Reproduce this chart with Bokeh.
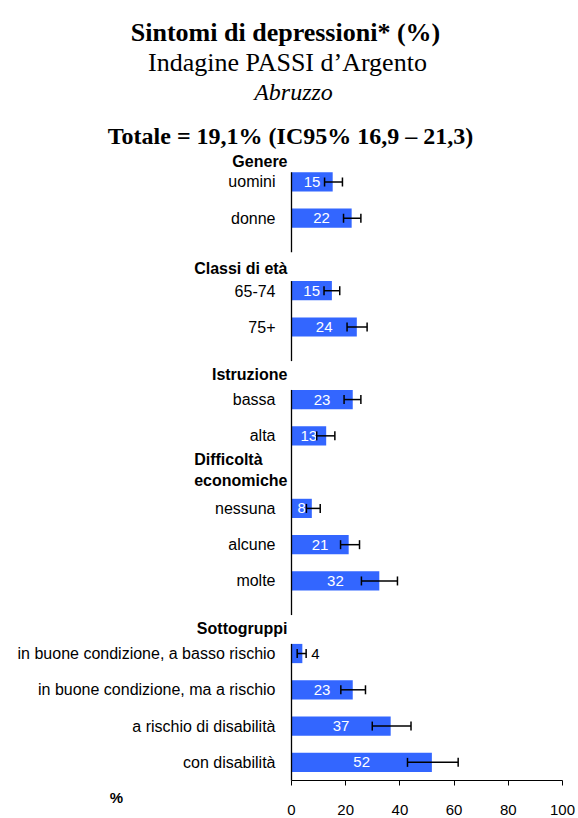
from bokeh.plotting import figure
from bokeh.models import (ColumnDataSource, LabelSet, Label, Whisker, TeeHead,
                          FixedTicker, Range1d)
from bokeh.embed import file_html
from bokeh.resources import INLINE
from bokeh.core.properties import value

# ---------------- data ----------------
title_text = "Sintomi di depressioni* (%)"
subtitle_text = "Indagine PASSI d\u2019Argento"
region_text = "Abruzzo"
total_text = "Totale = 19,1% (IC95% 16,9 \u2013 21,3)"
axis_unit = "%"

groups = ["Genere", "Classi di et\u00e0", "Istruzione", "Difficolt\u00e0\neconomiche", "Sottogruppi"]
categories = ["uomini", "donne", "65-74", "75+", "bassa", "alta",
              "nessuna", "alcune", "molte",
              "in buone condizione, a basso rischio",
              "in buone condizione, ma a rischio",
              "a rischio di disabilit\u00e0", "con disabilit\u00e0"]
category_group = [0, 0, 1, 1, 2, 2, 3, 3, 3, 4, 4, 4, 4]
values = [15.2, 22.2, 14.9, 24.1, 22.6, 12.8, 7.5, 21.1, 32.4, 4.0, 22.6, 36.6, 51.8]
ci_low = [12.2, 19.2, 12.0, 20.5, 19.4, 9.3, 5.5, 18.1, 25.8, 2.1, 18.2, 29.8, 42.8]
ci_high = [18.8, 25.6, 17.8, 27.9, 25.6, 16.0, 10.6, 25.1, 39.1, 5.4, 27.3, 44.1, 61.5]
value_labels = ["15", "22", "15", "24", "23", "13", "8", "21", "32", "4", "23", "37", "52"]
x_ticks = [0, 20, 40, 60, 80, 100]

# ---------------- layout / style ----------------
W, H = 578, 818
X0_PX, X100_PX = 291, 562          # pixel position of 0 and 100 on the value axis
AXIS_PX = 780                      # pixel row of the value axis
ROW_H = 36.28                      # pixel height of one row
BAR_H = 0.53
BLUE = "#3366FF"
SANS = "Liberation Sans"
SERIF = "Liberation Serif"
HEADER_DY = [16, 14, 11, -2, 11]   # header text shift below row centre (px)
GAP_HEADERS = [True, True, True, False, True]  # headers that interrupt the axis line

# build rows (header row followed by its categories)
row_names, row_is_header, row_ref = [], [], []
for g, gname in enumerate(groups):
    row_names.append(gname); row_is_header.append(True); row_ref.append(g)
    for i, cg in enumerate(category_group):
        if cg == g:
            row_names.append(categories[i]); row_is_header.append(False); row_ref.append(i)
n_rows = len(row_names)
row_y = [n_rows - 1 - k for k in range(n_rows)]
Y_AXIS = -0.5
YS = Y_AXIS - (H - AXIS_PX) / ROW_H
YE = Y_AXIS + AXIS_PX / ROW_H
PX_PER_UNIT = (X100_PX - X0_PX) / 100.0
XS = -X0_PX / PX_PER_UNIT
XE = (W - X0_PX) / PX_PER_UNIT


def px_x(img_x):
    return (img_x - X0_PX) / PX_PER_UNIT


def px_y(img_y):
    return Y_AXIS + (AXIS_PX - img_y) / ROW_H


cat_y = [None] * len(categories)
head_y = [None] * len(groups)
for k in range(n_rows):
    if row_is_header[k]:
        head_y[row_ref[k]] = row_y[k]
    else:
        cat_y[row_ref[k]] = row_y[k]

src = ColumnDataSource(dict(y=cat_y, v=values, lo=ci_low, hi=ci_high, name=categories))

p = figure(width=W, height=H, output_backend="svg", toolbar_location=None,
           x_range=Range1d(XS, XE), y_range=Range1d(YS, YE),
           min_border_left=0, min_border_right=0,
           min_border_top=0, min_border_bottom=0)
p.outline_line_color = None
p.xgrid.visible = False
p.ygrid.visible = False
p.yaxis.visible = False

p.hbar(y="y", left=0, right="v", height=BAR_H, source=src, fill_color=BLUE, line_color=None)

# vertical axis line, interrupted under some group headers
seg_y0, seg_y1 = [], []
top = head_y[0] + 0.5
for g in range(len(groups)):
    if not GAP_HEADERS[g]:
        continue
    if g > 0:
        seg_y0.append(head_y[g] + 0.06); seg_y1.append(top)
    top = head_y[g] - 1 + BAR_H / 2
seg_y0.append(Y_AXIS); seg_y1.append(top)
p.segment(x0=[0] * len(seg_y0), x1=[0] * len(seg_y0), y0=seg_y0, y1=seg_y1,
          line_color="black", line_width=1.3)

# value labels
inside = [i for i, v in enumerate(values) if v >= 5]
outside = [i for i, v in enumerate(values) if v < 5]
src_in = ColumnDataSource(dict(x=[values[i] / 2 for i in inside], y=[cat_y[i] for i in inside],
                               t=[value_labels[i] for i in inside]))
src_out = ColumnDataSource(dict(x=[ci_high[i] for i in outside], y=[cat_y[i] for i in outside],
                                t=[value_labels[i] for i in outside]))
p.text(x="x", y="y", text="t", source=src_in, text_color="white", text_align="center",
       text_baseline="middle", text_font=value(SANS), text_font_size="15px")
p.text(x="x", y="y", text="t", source=src_out, text_color="black", text_align="left",
       text_baseline="middle", text_font=value(SANS), text_font_size="15px", x_offset=5)

# error bars
head_kw = dict(size=9, line_color="black", line_width=1.5)
p.add_layout(Whisker(source=src, base="y", lower="lo", upper="hi", dimension="width",
                     line_color="black", line_width=1.5, level="annotation",
                     lower_head=TeeHead(**head_kw), upper_head=TeeHead(**head_kw)))

# category labels
p.add_layout(LabelSet(x=0, y="y", text="name", source=src, x_offset=-16,
                      text_align="right", text_baseline="middle",
                      text_font=value(SANS), text_font_size="16px", text_color="black"))
# group headers
hsrc = ColumnDataSource(dict(y=head_y, t=groups, dy=[-d for d in HEADER_DY]))
p.add_layout(LabelSet(x=0, y="y", text="t", source=hsrc, x_offset=-4, y_offset="dy",
                      text_align="right", text_baseline="middle",
                      text_font=value(SANS), text_font_size="16px", text_font_style="bold",
                      text_color="black"))

# x axis, drawn at the bottom of the bars
ax = p.xaxis[0]
ax.fixed_location = Y_AXIS
ax.ticker = FixedTicker(ticks=x_ticks)
ax.bounds = (x_ticks[0], x_ticks[-1])
ax.axis_line_color = "black"
ax.axis_line_width = 1
ax.major_tick_line_color = "black"
ax.major_tick_out = 5
ax.major_tick_in = 0
ax.minor_tick_out = 0
ax.minor_tick_in = 0
ax.major_label_standoff = 19
ax.major_label_text_font = SANS
ax.major_label_text_font_size = "15px"
ax.major_label_text_color = "black"

# "%" unit label
p.add_layout(Label(x=px_x(116), y=px_y(797), text=axis_unit, text_align="center",
                   text_baseline="middle", text_font=SANS, text_font_size="15px",
                   text_font_style="bold", text_color="black"))

# titles
p.add_layout(Label(x=px_x(285), y=px_y(32), text=title_text, text_align="center",
                   text_baseline="alphabetic", text_font=SERIF, text_font_size="26px",
                   text_font_style="bold", text_color="black"))
p.add_layout(Label(x=px_x(287), y=px_y(62), text=subtitle_text, text_align="center",
                   text_baseline="alphabetic", text_font=SERIF, text_font_size="26px",
                   text_color="black"))
p.add_layout(Label(x=px_x(293), y=px_y(91), text=region_text, text_align="center",
                   text_baseline="alphabetic", text_font=SERIF, text_font_size="24px",
                   text_font_style="italic", text_color="black"))
p.add_layout(Label(x=px_x(290), y=px_y(135), text=total_text, text_align="center",
                   text_baseline="alphabetic", text_font=SERIF, text_font_size="24px",
                   text_font_style="bold", text_color="black"))

open("out.html", "w").write(file_html(p, INLINE))
